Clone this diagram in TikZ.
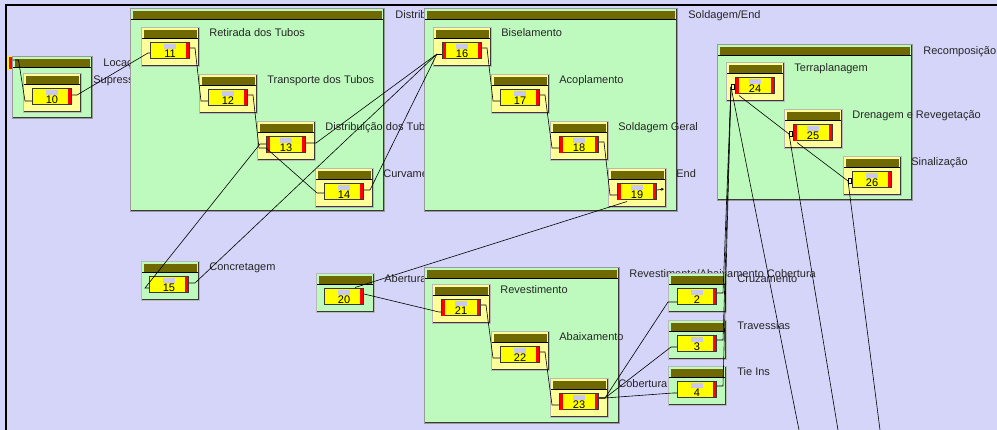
\documentclass[tikz,border=0pt]{standalone}
\usepackage{fontspec}
\setmainfont{Liberation Sans}
\usetikzlibrary{arrows.meta}
\definecolor{fundo}{RGB}{213,213,250}
\definecolor{verde}{RGB}{190,250,190}
\definecolor{oliva}{RGB}{112,104,0}
\definecolor{creme}{RGB}{255,255,153}
\definecolor{amarelo}{RGB}{255,255,0}
\definecolor{lilas}{RGB}{200,200,240}
\begin{document}
\begin{tikzpicture}[x=1pt, y=-1pt,
  cabec/.style = {path picture={
      \fill[oliva] ([xshift=2.5pt,yshift=-2.5pt]path picture bounding box.north west)
        rectangle ([xshift=-2.5pt,yshift=-10pt]path picture bounding box.north east);
      \draw[black, line width=0.8pt] ([yshift=-10.8pt]path picture bounding box.north west)
        -- ([yshift=-10.8pt]path picture bounding box.north east);
      \draw[gray!45!black, line width=3.4pt] (path picture bounding box.north east)
        -- (path picture bounding box.south east) -- (path picture bounding box.south west);}},
  grupo/.style 2 args = {draw=gray!80, line width=1.2pt, fill=verde, cabec,
      anchor=north west, minimum width=#1, minimum height=#2, inner sep=0},
  tarefa/.style = {draw=gray!55, line width=1.2pt, fill=creme, cabec,
      anchor=north west, minimum width=58, minimum height=39, inner sep=0},
  resumo/.style = {tarefa, fill=verde},
  barra/.style = {draw=gray!45!black, line width=1pt, fill=amarelo,
      minimum width=39, minimum height=16, inner sep=0, text height=14pt, text depth=0pt,
      font=\fontsize{11}{11}\selectfont,
      path picture={
        \fill[red] ([xshift=-4pt]path picture bounding box.north east)
          rectangle (path picture bounding box.south east);
        \fill[lilas] ([xshift=-6pt,yshift=-1pt]path picture bounding box.north)
          rectangle ([xshift=6pt,yshift=-6pt]path picture bounding box.north);}},
  marca/.style = {fill=red, draw=yellow, line width=1pt, minimum width=4, minimum height=13, inner sep=0},
  rotulo/.style = {anchor=base west, inner sep=0, font=\fontsize{11}{13}\selectfont, text=black!85},
  lig/.style = {draw=black, line width=0.6pt}
]
\fill[fundo] (0,0) rectangle (997,430);
\useasboundingbox (0,0) rectangle (997,430);
\draw[line width=2pt] (6,430) -- (6,5) -- (997,5);

% Locacao
\node[marca] (ini) at (10,63) {};
\node[grupo={80}{62}] (g0) at (12,56) {};
\node[rotulo] (rg0) at ([shift={(10,11)}]g0.north east) {Locação};
\node[tarefa] (b10) at (23,73) {};
\node[barra] (t10) at ([shift={(29,24)}]b10.north west) {10};
\node[rotulo] (r10) at ([shift={(11,11)}]b10.north east) {Supressão};

% Distribuicao
\node[grupo={254}{203}] (g1) at (130,8) {};
\node[rotulo] (rg1) at ([shift={(10,11)}]g1.north east) {Distribuição};
\foreach \n/\x/\y/\txt in {11/141/27/Retirada dos Tubos, 12/199/74/Transporte dos Tubos,
    13/257/121/Distribuição dos Tubos, 14/315/168/Curvamento} {
  \node[tarefa] (b\n) at (\x,\y) {};
  \node[barra] (t\n) at ([shift={(29,24)}]b\n.north west) {\n};
  \node[rotulo] (r\n) at ([shift={(9,10)}]b\n.north east) {\txt};
}

% Soldagem
\node[grupo={253}{203}] (g2) at (424,8) {};
\node[rotulo] (rg2) at ([shift={(10,11)}]g2.north east) {Soldagem/End};
\foreach \n/\x/\y/\txt in {16/433/27/Biselamento, 17/491/74/Acoplamento,
    18/550/121/Soldagem Geral, 19/608/168/End} {
  \node[tarefa] (b\n) at (\x,\y) {};
  \node[barra] (t\n) at ([shift={(29,24)}]b\n.north west) {\n};
  \node[rotulo] (r\n) at ([shift={(9,10)}]b\n.north east) {\txt};
}

% Recomposicao
\node[grupo={195}{156}] (g3) at (717,44) {};
\node[rotulo] (rg3) at ([shift={(10,11)}]g3.north east) {Recomposição};
\foreach \n/\x/\y/\txt in {24/726/62/Terraplanagem, 25/784/109/Drenagem e Revegetação,
    26/843/156/Sinalização} {
  \node[tarefa] (b\n) at (\x,\y) {};
  \node[barra] (t\n) at ([shift={(29,24)}]b\n.north west) {\n};
  \node[rotulo] (r\n) at ([shift={(9,10)}]b\n.north east) {\txt};
}

% avulsas
\foreach \n/\x/\y/\txt in {15/141/261/Concretagem, 20/316/273/Abertura} {
  \node[resumo] (b\n) at (\x,\y) {};
  \node[barra] (t\n) at ([shift={(28,24)}]b\n.north west) {\n};
  \node[rotulo] (r\n) at ([shift={(9,10)}]b\n.north east) {\txt};
}

% Revestimento
\node[grupo={195}{156}] (g4) at (424,267) {};
\foreach \n/\x/\y/\txt in {21/432/284/Revestimento, 22/491/331/Abaixamento,
    23/550/378/Cobertura} {
  \node[tarefa] (b\n) at (\x,\y) {};
  \node[barra] (t\n) at ([shift={(29,24)}]b\n.north west) {\n};
  \node[rotulo] (r\n) at ([shift={(9,10)}]b\n.north east) {\txt};
}
\node[rotulo] (rg4) at ([shift={(9,11)}]g4.north east) {Revestimento/Abaixamento Cobertura};
\foreach \n/\y/\txt in {2/273/Cruzamento, 3/320/Travessias, 4/366/Tie Ins} {
  \node[resumo] (b\n) at (668,\y) {};
  \node[barra] (t\n) at ([shift={(29,24)}]b\n.north west) {\n};
  \node[rotulo] (r\n) at ([shift={(10,10)}]b\n.north east) {\txt};
}
\foreach \n in {13,16,18,19,21,23,24,25}
  \fill[red] ([shift={(0.6,0.6)}]t\n.north west) rectangle ([shift={(3.5,-0.6)}]t\n.south west);

% ligacoes
\draw[lig] ([shift={(0,-3)}]ini.east) -- ++(6,0) -- ([shift={(-7,4)}]t10.west) -- ([shift={(0,4)}]t10.west);
\draw[lig] ([shift={(0,-2)}]t10.east) -- ++(5,0) -- ([shift={(-2,2)}]t11.west) -- ([shift={(0,2)}]t11.west);
\foreach \a/\b in {11/12,12/13,16/17,17/18,18/19,21/22,22/23}
  \draw[lig] ([shift={(0,-3)}]t\a.east) -- ++(5,0) -- ([shift={(-7,3)}]t\b.west) -- ([shift={(0,3)}]t\b.west);
\draw[lig] ([shift={(0,3)}]t13.west) -- ([shift={(-7,1)}]t14.west) -- ([shift={(0,1)}]t14.west);
\coordinate (e16) at ([shift={(-5,3)}]t16.west);
\foreach \a/\d in {13/10,14/6,15/6}
  \draw[lig] ([shift={(0,-2)}]t\a.east) -- ++(\d,0) -- (e16);
\draw[lig] (e16) -- ([shift={(0,3)}]t16.west);
\draw[lig] ([shift={(0,-1)}]t13.west) -- ++(-6,0) -- ([shift={(-4,3)}]t15.west) -- ([shift={(0,3)}]t15.west);
\draw[lig] ([shift={(10,1)}]t19.south west) -- ([shift={(-9,-1)}]t20.north east);
\draw[lig, -{Stealth[length=3pt,width=3pt]}] ([shift={(0,-2)}]t19.east) -- ++(7,-1);
\draw[lig] ([shift={(0,-3)}]t20.east) -- ([shift={(-2,4)}]t21.west) -- ([shift={(0,4)}]t21.west);
\foreach \b/\dx/\dy in {2/-9/5, 3/-6/3, 4/-4/3}
  \draw[lig] ([shift={(0,-4)}]t23.east) -- ++(6,0) -- ([shift={(\dx,\dy)}]t\b.west) -- ([shift={(0,\dy)}]t\b.west);
\foreach \n in {24,25,26}
  \coordinate (e\n) at ([shift={(-4,1)}]t\n.west);
\coordinate (s24) at (799,430);
\coordinate (s25) at (838,430);
\coordinate (s26) at (880,430);
\foreach \a in {2,3,4}
  \draw[lig] ([shift={(0,-4)}]t\a.east) -- ++(6,0) -- (e24);
\draw[lig] ([shift={(4,1)}]t24.south west) -- (e25);
\draw[lig] ([shift={(4,1)}]t25.south west) -- (e26);
\foreach \n in {24,25,26} {
  \draw[lig] (e\n) -- (s\n);
  \draw[lig, -{Square[open,length=4pt,width=5pt]}] (e\n) -- ([shift={(0,1)}]t\n.west);
}
\end{tikzpicture}
\end{document}
